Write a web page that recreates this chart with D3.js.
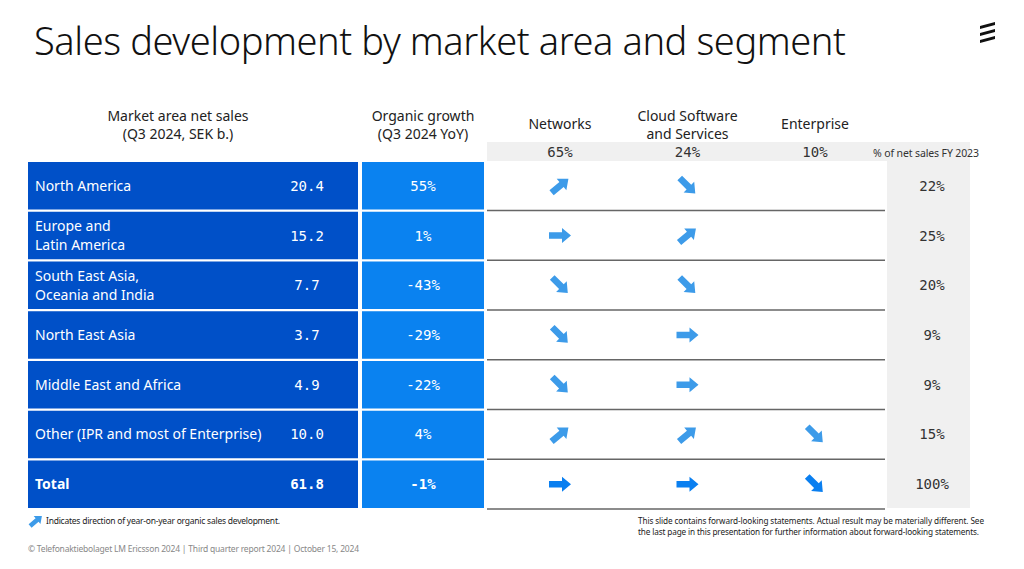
<!DOCTYPE html>
<html><head><meta charset="utf-8">
<script src="https://cdn.jsdelivr.net/npm/d3@7"></script>
<style>body{margin:0;background:#fff}svg{display:block}svg{font-family:"Noto Sans",sans-serif}</style>
</head><body><script>
var regions = ["North America", "Europe and\nLatin America", "South East Asia,\nOceania and India", "North East Asia", "Middle East and Africa", "Other (IPR and most of Enterprise)", "Total"];
var netSales = ["20.4", "15.2", "7.7", "3.7", "4.9", "10.0", "61.8"];
var growth = ["55%", "1%", "-43%", "-29%", "-22%", "4%", "-1%"];
var networksDir = ["up", "right", "down", "down", "down", "up", "right"];
var cloudDir = ["down", "up", "down", "right", "right", "up", "right"];
var enterpriseDir = [null, null, null, null, null, "down", "down"];
var shareFY23 = ["22%", "25%", "20%", "9%", "9%", "15%", "100%"];
var segments = ["Networks", "Cloud Software\nand Services", "Enterprise"];
var segmentShare = ["65%", "24%", "10%"];

var W = 1024, H = 569;
var svg = d3.select("body").append("svg").attr("width", W).attr("height", H);
var mono = "'DejaVu Sans Mono',monospace";

svg.append("text").attr("x", 34).attr("y", 55).attr("font-size", 38).attr("font-weight", 300)
  .attr("textLength", 812).attr("fill", "#111").text("Sales development by market area and segment");

// logo
[0, 1, 2].forEach(function (i) {
  var y0 = 22 + i * 7;
  svg.append("path").attr("d", "M980," + (y0 + 4) + "L995," + y0 + "L995," + (y0 + 3) + "L980," + (y0 + 7) + "Z").attr("fill", "#111");
});

var y = d3.scaleBand().domain(d3.range(regions.length)).range([162, 508]).paddingInner(0.045).paddingOuter(0);
var segX = d3.scalePoint().domain(d3.range(3)).range([560, 815]);

function multi(x, yb, str, size, anchor, fill) {
  var lines = str.split("\n");
  var t = svg.append("text").attr("x", x).attr("y", yb).attr("font-size", size).attr("text-anchor", anchor || "middle").attr("fill", fill || "#222");
  lines.forEach(function (l, i) { t.append("tspan").attr("x", x).attr("dy", i ? size * 1.3 : 0).text(l); });
  return t;
}
multi(178, 121, "Market area net sales\n(Q3 2024, SEK b.)", 14);
multi(423, 121, "Organic growth\n(Q3 2024 YoY)", 14);
segments.forEach(function (s, i) { multi(segX(i), s.indexOf("\n") > 0 ? 121 : 129, s, 14); });

svg.append("rect").attr("x", 487).attr("y", 142).attr("width", 400).attr("height", 19).attr("fill", "#f0f0f0");
svg.append("rect").attr("x", 887).attr("y", 142).attr("width", 83).attr("height", 366).attr("fill", "#f0f0f0");
segmentShare.forEach(function (s, i) {
  svg.append("text").attr("x", segX(i)).attr("y", 157).attr("text-anchor", "middle").attr("font-size", 14).style("font-family", mono).attr("fill", "#333").text(s);
});
svg.append("text").attr("x", 926).attr("y", 157).attr("text-anchor", "middle").attr("font-size", 10.5).attr("fill", "#333").attr("textLength", 106).text("% of net sales FY 2023");

var arrowPath = "M-11,-3.3L2,-3.3L2,-7.5L11,0L2,7.5L2,3.3L-11,3.3Z";
var angle = { up: -40, right: 0, down: 45 };

regions.forEach(function (r, i) {
  var top = y(i), h = y.bandwidth(), cy = top + h / 2, total = i === regions.length - 1;
  svg.append("rect").attr("x", 28).attr("y", top).attr("width", 330).attr("height", h).attr("fill", "#0050c8");
  svg.append("rect").attr("x", 362).attr("y", top).attr("width", 122).attr("height", h).attr("fill", "#0a82f0");
  svg.append("line").attr("x1", 487).attr("x2", 885).attr("y1", top + h + 1).attr("y2", top + h + 1).attr("stroke", "#666").attr("stroke-width", 1.5);
  var lines = r.split("\n");
  var t = svg.append("text").attr("x", 35).attr("y", cy + 5 - (lines.length - 1) * 9.5).attr("font-size", 14).attr("fill", "#fff").attr("font-weight", total ? 700 : 400);
  lines.forEach(function (l, k) { t.append("tspan").attr("x", 35).attr("dy", k ? 19 : 0).text(l); });
  [[307, netSales[i]], [423, growth[i]]].forEach(function (p) {
    svg.append("text").attr("x", p[0]).attr("y", cy + 5).attr("text-anchor", "middle").attr("font-size", 14).style("font-family", mono).attr("fill", "#fff").attr("font-weight", total ? 700 : 400).text(p[1]);
  });
  [networksDir, cloudDir, enterpriseDir].forEach(function (arr, j) {
    var d = arr[i]; if (!d) return;
    svg.append("path").attr("d", arrowPath).attr("fill", total ? "#0a7ff0" : "#3d9be9")
      .attr("transform", "translate(" + segX(j) + "," + cy + ") rotate(" + angle[d] + ")");
  });
  svg.append("text").attr("x", 932).attr("y", cy + 5).attr("text-anchor", "middle").attr("font-size", 14).style("font-family", mono).attr("fill", "#333").text(shareFY23[i]);
});

// footnotes
svg.append("path").attr("d", arrowPath).attr("fill", "#3d9be9").attr("transform", "translate(36,521) rotate(-40) scale(0.7)");
svg.append("text").attr("x", 46).attr("y", 524).attr("font-size", 8.5).attr("fill", "#222").attr("textLength", 234).text("Indicates direction of year-on-year organic sales development.");
var fn = multi(638, 524, "This slide contains forward-looking statements. Actual result may be materially different. See\nthe last page in this presentation for further information about forward-looking statements.", 8.2, "start");
fn.selectAll("tspan").attr("textLength", function (d, k) { return k ? 341 : 346; });
svg.append("text").attr("x", 28).attr("y", 552).attr("font-size", 8.5).attr("fill", "#888").attr("textLength", 331).text("© Telefonaktiebolaget LM Ericsson 2024  | Third quarter report 2024 | October 15, 2024");
</script></body></html>
